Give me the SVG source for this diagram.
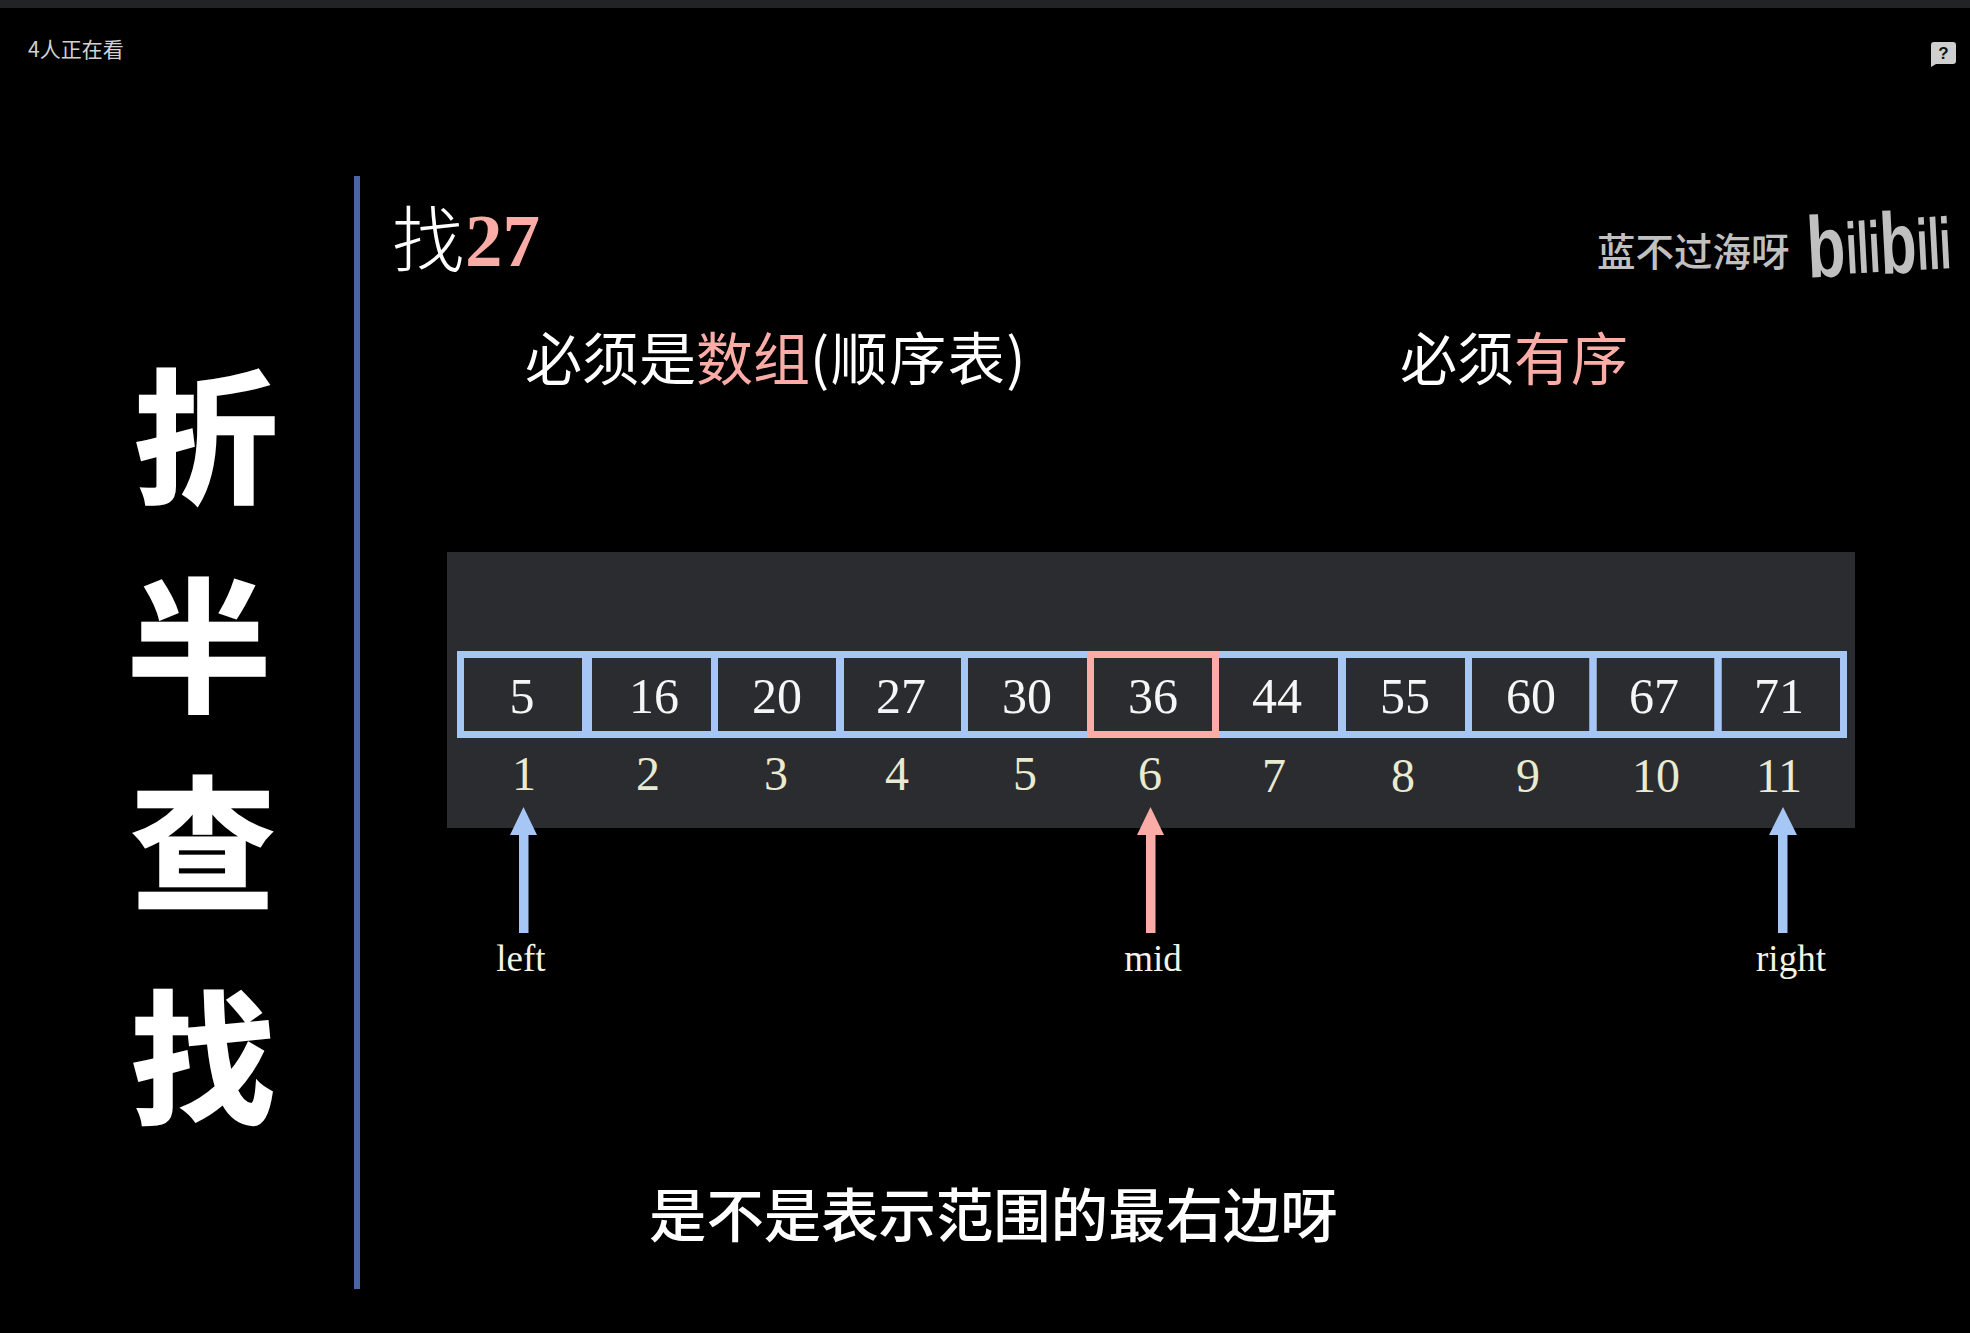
<svg xmlns="http://www.w3.org/2000/svg" width="1970" height="1333" viewBox="0 0 1970 1333">
<style>
.cjk{font-family:"Noto Sans CJK SC","Noto Sans",sans-serif}
.serif{font-family:"Liberation Serif",serif}
.title{font-size:144px;font-weight:700;fill:#fff;stroke:#fff;stroke-width:2.500;text-anchor:middle}
.head{font-size:57px;font-weight:400;fill:#fff}
.pink{fill:#fcaca6}
.cell{fill:none;stroke:#a6c6f5;stroke-width:7}
.cellp{fill:none;stroke:#fcaca6;stroke-width:7}
.val{font-size:50px;fill:#f6f6f6;text-anchor:middle}
.idx{font-size:48px;fill:#e8ead2;text-anchor:middle}
.lab{font-size:37px;fill:#f3f3e6;text-anchor:middle}
.blue{fill:#a6c6f5}
.logo{font-family:"Liberation Sans",sans-serif;font-weight:700;fill:#c0c0c0}
</style>
<rect width="1970" height="1333" fill="#000"/>
<rect id="topbar" width="1970" height="8" fill="#212325"/>
<g id="viewers"><text class="cjk" x="28" y="57" font-size="21" fill="#d2d2d2">4人正在看</text></g>
<g id="help"><path d="M1931 45a3 3 0 0 1 3-3h19a3 3 0 0 1 3 3v16a3 3 0 0 1-3 3h-17l-5 3z" fill="#cfcfcf"/><text x="1943.500" y="59" font-family="Liberation Sans,sans-serif" font-weight="700" font-size="17" fill="#111" text-anchor="middle">?</text></g>

<g id="title">
<text class="cjk title" x="206" y="492">折</text>
<text class="cjk title" x="199" y="701">半</text>
<text class="cjk title" x="203" y="899">查</text>
<text class="cjk title" x="203" y="1113">找</text>
</g>
<rect id="divider" x="354" y="176" width="6" height="1113" fill="#4a66a0"/>

<g id="find"><text class="cjk" x="392" y="266" font-size="72" font-weight="300" fill="#fff">找</text><text class="serif pink" x="465" y="266" font-size="75" font-weight="700">27</text></g>
<g id="req1"><text class="cjk head" x="525" y="380">必须是<tspan class="pink">数组</tspan><tspan letter-spacing="1.500">(顺序表)</tspan></text></g>
<g id="req2"><text class="cjk head" x="1400" y="380">必须<tspan class="pink">有序</tspan></text></g>

<g id="watermark">
<text class="cjk" x="1597" y="266" font-size="38.500" font-weight="500" fill="#c0c0c0">蓝不过海呀</text>
<g transform="rotate(-3 1880 270)">
<text class="logo" transform="translate(1808 274) scale(1.05 1.45)" font-size="60">b</text>
<text class="logo" transform="translate(1847 272) scale(.82 1.45)" font-size="50">ili</text>
<text class="logo" transform="translate(1881 274) scale(1 1.45)" font-size="60">b</text>
<text class="logo" transform="translate(1918 272) scale(.82 1.45)" font-size="50">ili</text>
</g>
</g>

<rect id="panel" x="447" y="552" width="1408" height="276" fill="#2b2c2f"/>

<g id="array">
<g id="c1"><rect class="cell" x="460.500" y="654.500" width="125" height="80"/><text class="serif val" x="522" y="713">5</text></g>
<g id="c2"><rect class="cell" x="588.500" y="654.500" width="126" height="80"/><text class="serif val" x="654" y="713">16</text></g>
<g id="c3"><rect class="cell" x="714.500" y="654.500" width="125" height="80"/><text class="serif val" x="777" y="713">20</text></g>
<g id="c4"><rect class="cell" x="840.500" y="654.500" width="124" height="80"/><text class="serif val" x="901" y="713">27</text></g>
<g id="c5"><rect class="cell" x="964.500" y="654.500" width="126" height="80"/><text class="serif val" x="1027" y="713">30</text></g>
<g id="c7"><rect class="cell" x="1215.500" y="654.500" width="126" height="80"/><text class="serif val" x="1277" y="713">44</text></g>
<g id="c8"><rect class="cell" x="1342.500" y="654.500" width="126" height="80"/><text class="serif val" x="1405" y="713">55</text></g>
<g id="c9"><rect class="cell" x="1468.500" y="654.500" width="124.500" height="80"/><text class="serif val" x="1531" y="713">60</text></g>
<g id="c10"><rect class="cell" x="1593" y="654.500" width="125" height="80"/><text class="serif val" x="1654" y="713">67</text></g>
<g id="c11"><rect class="cell" x="1718" y="654.500" width="125.500" height="80"/><text class="serif val" x="1779" y="713">71</text></g>
<g id="c6"><rect class="cellp" x="1090.500" y="654.500" width="125" height="80"/><text class="serif val" x="1153" y="713">36</text></g>
</g>

<g id="indices">
<text class="serif idx" x="524" y="790">1</text>
<text class="serif idx" x="648" y="790">2</text>
<text class="serif idx" x="776" y="790">3</text>
<text class="serif idx" x="897" y="790">4</text>
<text class="serif idx" x="1025" y="790">5</text>
<text class="serif idx" x="1150" y="790">6</text>
<text class="serif idx" x="1274" y="792">7</text>
<text class="serif idx" x="1403" y="792">8</text>
<text class="serif idx" x="1528" y="792">9</text>
<text class="serif idx" x="1656" y="792">10</text>
<text class="serif idx" x="1779" y="792">11</text>
</g>

<g id="connectors">
<path id="arrow-left" class="blue" d="M523.500 807L537 835H528.500V933H519V835H510Z"/>
<path id="arrow-mid" class="pink" d="M1150.500 807L1164 835H1155.500V933H1146V835H1137Z"/>
<path id="arrow-right" class="blue" d="M1783 807L1797 835H1787.500V933H1778V835H1769Z"/>
</g>
<g id="labels">
<text class="serif lab" x="521" y="971">left</text>
<text class="serif lab" x="1153" y="971">mid</text>
<text class="serif lab" x="1791" y="971">right</text>
</g>

<g id="subtitle"><text class="cjk" x="649" y="1237" font-size="57.400" font-weight="500" fill="#fff">是不是表示范围的最右边呀</text></g>
</svg>
